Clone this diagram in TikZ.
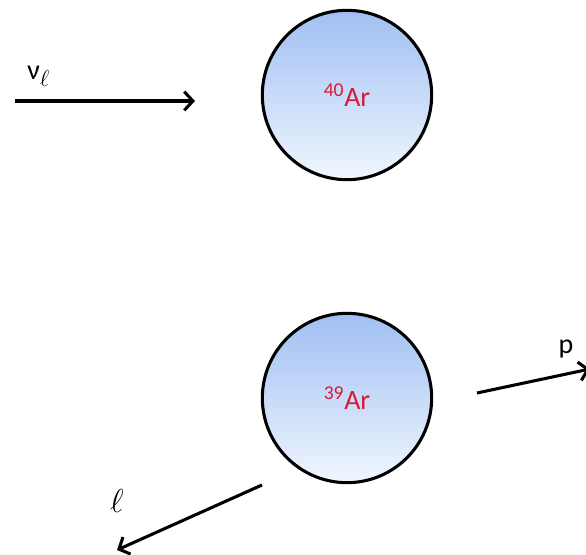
\documentclass[tikz,border=0pt]{standalone}
\usepackage{fontspec}
\setmainfont{Carlito}
\usetikzlibrary{arrows.meta}

\definecolor{atomtop}{RGB}{160,191,242}
\definecolor{atombot}{RGB}{240,246,255}
\definecolor{isored}{RGB}{214,28,52}

\tikzset{
    atom/.style={circle, draw=black, line width=2.3pt, minimum size=127pt,
        top color=atomtop, bottom color=atombot, text=isored,
        font=\fontsize{21}{24}\selectfont, inner sep=0pt},
    track/.style={line width=2.3pt, -{Straight Barb[length=6.5pt,width=14pt,line width=2.3pt]}},
    lbl/.style={font=\fontsize{21}{24}\selectfont, inner sep=0pt}
}

\begin{document}
\begin{tikzpicture}[x=0.75pt, y=-0.75pt]

        %----- FRAME -----
        \useasboundingbox (0,0) rectangle (586,555);

        %----- NUCLEI -----
        \node[atom] (ar40) at (347,95) {\textsuperscript{40}Ar};
        \node[atom] (ar39) at (347,398) {\textsuperscript{39}Ar};

        %----- INCOMING NEUTRINO -----
        \coordinate (nustart) at (15,101);
        \coordinate (nuend) at (195,101);
        \draw[track] (nustart) -- (nuend);
        \node[lbl, anchor=base west] (nulbl) at (27,80)
            {ν\raisebox{-5pt}{\fontsize{17}{17}\selectfont$\ell$}};

        %----- OUTGOING PROTON -----
        \coordinate (pstart) at (477,393);
        \coordinate (pend) at (590,369);
        \draw[track] (pstart) -- (pend);
        \node[lbl, anchor=base] (plbl) at (566,354) {p};

        %----- OUTGOING LEPTON -----
        \coordinate (lstart) at (262,485);
        \coordinate (lend) at (117,550);
        \draw[track] (lstart) -- (lend);
        \node[lbl, anchor=base, font=\fontsize{25}{28}\selectfont] (llbl) at (117,513) {$\ell$};

    \end{tikzpicture}
\end{document}
